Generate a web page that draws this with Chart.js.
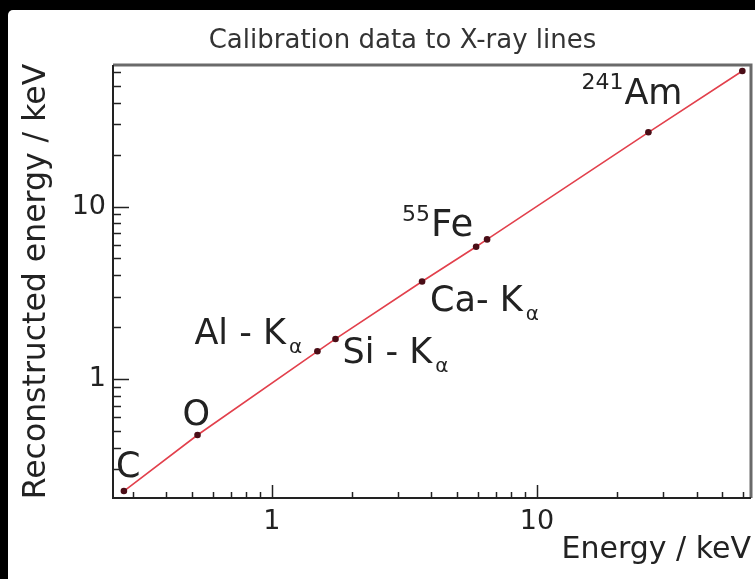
<!DOCTYPE html>
<html>
<head>
<meta charset="utf-8">
<script src="https://cdn.jsdelivr.net/npm/chart.js@4.4.0/dist/chart.umd.min.js"></script>
<style>
  html, body { margin: 0; padding: 0; background: #000; }
  body { width: 755px; height: 579px; overflow: hidden; position: relative; }
  #panel { position: absolute; left: 8px; top: 10px; width: 747px; height: 569px; background: #fff; border-radius: 5px 0 0 0; }
</style>
</head>
<body>
<div id="panel"><canvas id="calib" width="747" height="569"></canvas></div>
<script>
// X-ray line energies (keV) and what the calibration reconstructs for them
const lineNames  = ['C', 'O', 'Al', 'Si', 'Ca', 'Fe', 'Fe', 'Am', 'Am'];
const trueEnergy = [0.277, 0.525, 1.487, 1.740, 3.69, 5.90, 6.49, 26.34, 59.54];
const recoEnergy = [0.225, 0.475, 1.45, 1.71, 3.68, 5.85, 6.45, 26.9, 60.9];

// axis ticks (log scales)
const xTickLabels = [1, 10];
const yTickLabels = [1, 10];
const xMinorTicks = [0.3, 0.4, 0.5, 0.6, 0.7, 0.8, 0.9, 2, 3, 4, 5, 6, 7, 8, 9, 20, 30, 40, 50, 60];
const yMinorTicks = [0.3, 0.4, 0.5, 0.6, 0.7, 0.8, 0.9, 2, 3, 4, 5, 6, 7, 8, 9, 20, 30, 40, 50, 60];

const chartTitle = 'Calibration data to X-ray lines';

const FONT = 'DejaVu Sans';
const INK = '#222';

// text next to the points: main text, optional superscript before / subscript after
const annotations = [
  { at: 0, text: 'C', dx: -8, dy: -14 },
  { at: 1, text: 'O', dx: -15, dy: -10 },
  { at: 2, text: 'Al - K', sub: '\u03b1', dx: -123, dy: -7 },
  { at: 3, text: 'Si - K', sub: '\u03b1', dx: 7, dy: 24 },
  { at: 4, text: 'Ca- K', sub: '\u03b1', dx: 8, dy: 30 },
  { at: 5, text: 'Fe', sup: '55', dx: -45, dy: -11, size: 37 },
  { at: 7, text: 'Am', sup: '241', dx: -24, dy: -28 }
];

const frameAndLabels = {
  id: 'frameAndLabels',
  afterDraw(chart) {
    const { ctx, chartArea: a, scales: { x, y } } = chart;
    ctx.save();

    // title, a little right of the canvas centre
    ctx.fillStyle = '#333';
    ctx.font = '26px "' + FONT + '"';
    ctx.textAlign = 'center';
    ctx.textBaseline = 'alphabetic';
    ctx.fillText(chartTitle, chart.width / 2 + 21, 38);

    // tick marks pointing into the plot
    ctx.strokeStyle = INK;
    ctx.lineWidth = 1.5;
    const mark = (scale, vals, len) => {
      vals.forEach(v => {
        const p = Math.round(scale.getPixelForValue(v)) + 0.5;
        ctx.beginPath();
        if (scale.axis === 'x') {
          ctx.moveTo(p, a.bottom);
          ctx.lineTo(p, a.bottom - len);
        } else {
          ctx.moveTo(a.left, p);
          ctx.lineTo(a.left + len, p);
        }
        ctx.stroke();
      });
    };
    mark(x, xMinorTicks, 6);
    mark(x, xTickLabels, 13);
    mark(y, yMinorTicks, 8);
    mark(y, yTickLabels, 16);

    // box around the plot
    ctx.lineWidth = 3;
    ctx.strokeStyle = '#6a6a6a';
    ctx.beginPath();
    ctx.moveTo(a.left, a.top);
    ctx.lineTo(a.right, a.top);
    ctx.lineTo(a.right, a.bottom);
    ctx.stroke();
    ctx.lineWidth = 2;
    ctx.strokeStyle = INK;
    ctx.beginPath();
    ctx.moveTo(a.left, a.top);
    ctx.lineTo(a.left, a.bottom);
    ctx.lineTo(a.right, a.bottom);
    ctx.stroke();

    // line names
    ctx.fillStyle = INK;
    ctx.textAlign = 'left';
    annotations.forEach(n => {
      const px = x.getPixelForValue(trueEnergy[n.at]) + n.dx;
      const py = y.getPixelForValue(recoEnergy[n.at]) + n.dy;
      ctx.font = (n.size || 35) + 'px "' + FONT + '"';
      const w = ctx.measureText(n.text).width;
      ctx.fillText(n.text, px, py);
      if (n.sup) {
        ctx.font = '22px "' + FONT + '"';
        ctx.textAlign = 'right';
        ctx.fillText(n.sup, px - 1, py - 15);
        ctx.textAlign = 'left';
      }
      if (n.sub) {
        ctx.font = '20px "' + FONT + '"';
        ctx.fillText(n.sub, px + w + 3, py + 9);
      }
    });
    ctx.restore();
  }
};

new Chart(document.getElementById('calib'), {
  type: 'scatter',
  data: {
    datasets: [{
      label: 'calibration',
      data: trueEnergy.map((e, i) => ({ x: e, y: recoEnergy[i] })),
      showLine: true,
      borderColor: '#e2404c',
      borderWidth: 1.6,
      tension: 0,
      pointRadius: 3.3,
      pointHoverRadius: 3.3,
      pointBackgroundColor: '#4a0d16',
      pointBorderWidth: 0
    }]
  },
  options: {
    responsive: false,
    animation: false,
    devicePixelRatio: 1,
    layout: { padding: { left: 0, right: 4, top: 55, bottom: 0 } },
    plugins: {
      legend: { display: false },
      tooltip: { enabled: false },
      title: { display: false }
    },
    scales: {
      x: {
        type: 'logarithmic',
        min: 0.252,
        max: 64.2,
        afterBuildTicks: s => { s.ticks = xTickLabels.map(v => ({ value: v, major: true })); },
        afterFit: s => { s.height = 81; },
        grid: { display: false, drawTicks: false },
        border: { display: false },
        ticks: {
          autoSkip: false,
          maxRotation: 0,
          padding: 8,
          color: INK,
          font: { family: FONT, size: 27 },
          callback: v => String(v)
        },
        title: {
          display: true,
          text: 'Energy / keV',
          align: 'end',
          color: INK,
          font: { family: FONT, size: 30 },
          padding: { top: 0, bottom: 11 }
        }
      },
      y: {
        type: 'logarithmic',
        min: 0.205,
        max: 66,
        afterBuildTicks: s => { s.ticks = yTickLabels.map(v => ({ value: v, major: true })); },
        afterFit: s => { s.width = 105; },
        grid: { display: false, drawTicks: false },
        border: { display: false },
        ticks: {
          autoSkip: false,
          padding: 7,
          color: INK,
          font: { family: FONT, size: 27 },
          callback: v => String(v)
        },
        title: {
          display: true,
          text: 'Reconstructed energy / keV',
          color: INK,
          font: { family: FONT, size: 31.5 },
          padding: { top: 10, bottom: 0 }
        }
      }
    }
  },
  plugins: [frameAndLabels]
});
</script>
</body>
</html>
